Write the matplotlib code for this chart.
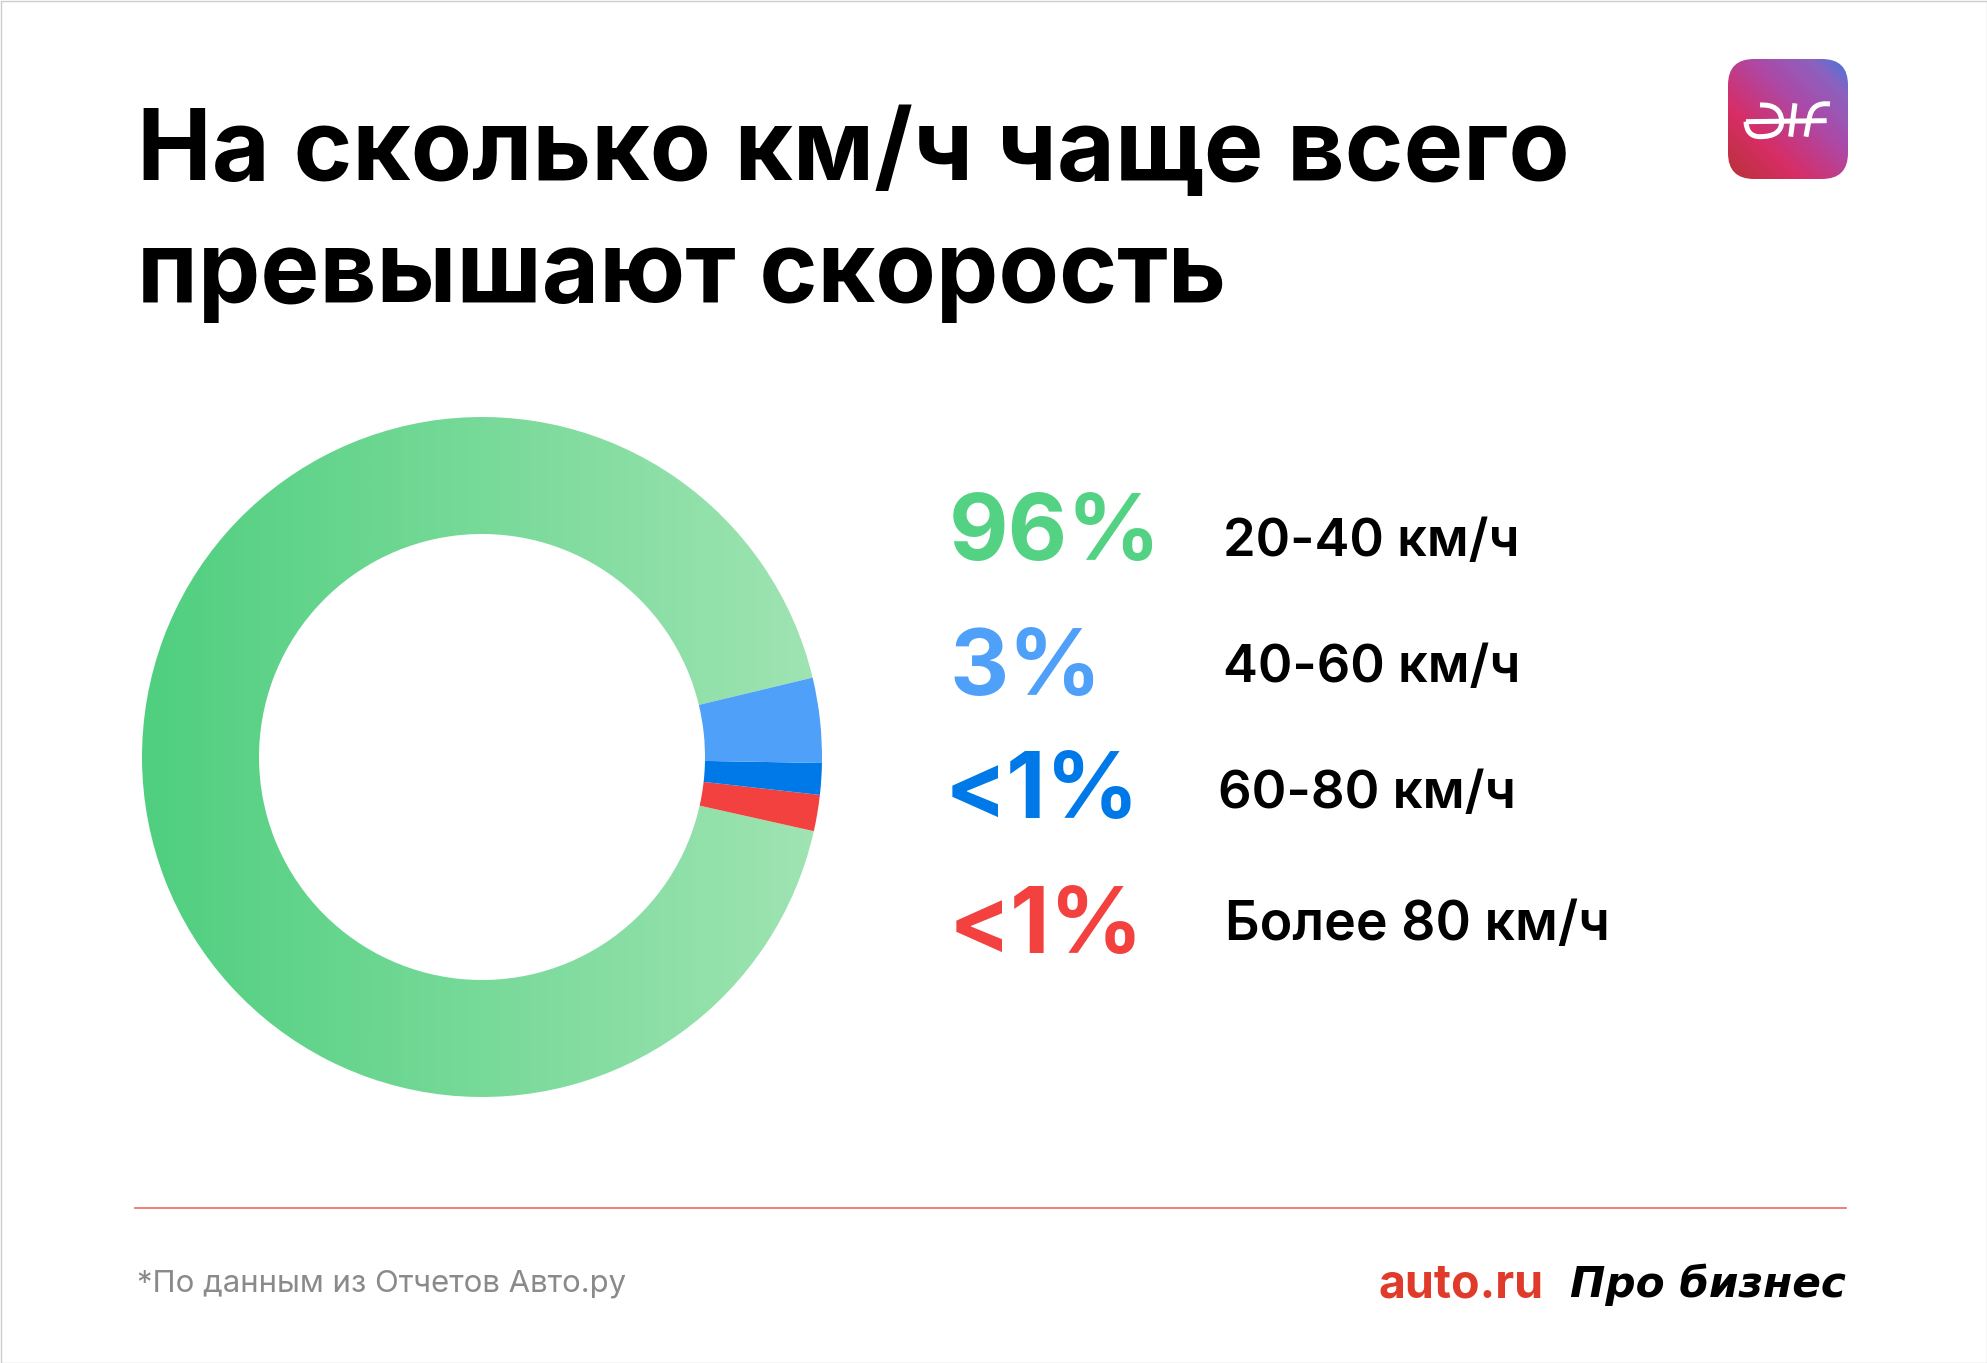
import numpy as np
import matplotlib
matplotlib.use('Agg')
import matplotlib.pyplot as plt
from matplotlib.colors import LinearSegmentedColormap
from matplotlib.patches import FancyBboxPatch, PathPatch, Rectangle
from matplotlib.path import Path

W, H = 1987, 1363

title_lines = ['На сколько км/ч чаще всего', 'превышают скорость']
pct_labels = ['96%', '3%', '<1%', '<1%']
speed_labels = ['20-40 км/ч', '40-60 км/ч', '60-80 км/ч', 'Более 80 км/ч']
pct_colors = ['#52D282', '#4FA0F8', '#0079E8', '#F2413F']
footnote = '*По данным из Отчетов Авто.ру'

# slice sizes as drawn, in percent of the ring (red, dark blue, blue, green)
ring_values = [1.72, 1.50, 4.03, 92.75]
ring_colors = ['#F2413F', '#0079E8', '#4FA0F8', 'none']

plt.rcParams['font.family'] = ['Inter', 'DejaVu Sans']

fig = plt.figure(figsize=(W / 100, H / 100), dpi=100, facecolor='white')

# page layer in pixel coordinates
page = fig.add_axes([0, 0, 1, 1])
page.set_xlim(0, W)
page.set_ylim(H, 0)
page.axis('off')
page.add_patch(Rectangle((0.5, 0.5), W - 1, H - 1, fill=False, edgecolor='#CCCCCC', linewidth=1))

page.text(137, 154, title_lines[0], fontsize=72, fontweight='bold', color='black', va='center', ha='left')
page.text(137, 277, title_lines[1], fontsize=71.3, fontweight='bold', color='black', va='center', ha='left')

# donut
cx, cy, r_out, r_in = 482, 757, 340, 223
ring = fig.add_axes([(cx - r_out) / W, 1 - (cy + r_out) / H, 2 * r_out / W, 2 * r_out / H])
wedges, _ = ring.pie(ring_values, colors=ring_colors, startangle=-12.6, counterclock=True, radius=1,
                     wedgeprops={'width': (r_out - r_in) / r_out, 'linewidth': 0})
green_map = LinearSegmentedColormap.from_list('green', ['#4FCF7F', '#A0E4B3'])
img = ring.imshow(np.linspace(0, 1, 512).reshape(1, -1), cmap=green_map, extent=[-1, 1, -1, 1],
                  aspect='auto', zorder=0)
img.set_clip_path(wedges[3])
ring.set_xlim(-1, 1)
ring.set_ylim(-1, 1)
ring.axis('off')

# legend
pct_pos = [(949, 536), (949, 671), (945, 794), (949, 929)]
label_pos = [(1223, 542), (1223, 669), (1218, 794), (1225, 926)]
label_size = [37.7, 37.7, 38.0, 38.6]
for lab, col, (x, y) in zip(pct_labels, pct_colors, pct_pos):
    page.text(x, y, lab, fontsize=66, fontweight='bold', color=col, va='center', ha='left')
for lab, (x, y), size in zip(speed_labels, label_pos, label_size):
    page.text(x, y, lab, fontsize=size, fontweight='semibold', color='black', va='center', ha='left')

# footer
page.plot([135, 1846], [1208, 1208], color='#EE6A5F', linewidth=1.2)
page.text(137, 1284, footnote, fontsize=22.4, color='#8A8A8A', va='center', ha='left')
page.text(1379, 1286, 'auto.ru', fontsize=33.5, fontweight='bold', color='#E03A2A', va='center', ha='left')
page.text(1570, 1285, 'Про бизнес', fontsize=30.4, fontstyle='italic', fontweight='bold', color='black',
          va='center', ha='left', family='DejaVu Sans')

# logo
logo_map = LinearSegmentedColormap.from_list('logo', [(0, '#B83238'), (0.3, '#D72D66'), (0.62, '#AB4AA8'),
                                                      (0.85, '#8B62C0'), (1, '#3F78DC')])
xx, yy = np.meshgrid(np.linspace(0, 1, 128), np.linspace(0, 1, 128))
logo_img = page.imshow((xx + yy) / 2, cmap=logo_map, extent=[1728, 1848, 179, 59], origin='lower',
                       aspect='auto', zorder=2)
logo_box = FancyBboxPatch((1752, 83), 72, 72, boxstyle='round,pad=24,rounding_size=26', facecolor='none',
                          edgecolor='none', transform=page.transData)
page.add_patch(logo_box)
logo_img.set_clip_path(logo_box)
page.set_xlim(0, W)
page.set_ylim(H, 0)


def px(X, Y):
    return 1680 + X / 3, 30 + Y / 3


strokes = [
    ([(240, 225), (300, 222), (305, 270), (305, 275), (305, 320), (240, 320), (200, 320), (198, 275)],
     [Path.MOVETO, Path.CURVE3, Path.CURVE3, Path.LINETO, Path.CURVE3, Path.CURVE3, Path.CURVE3, Path.CURVE3]),
    ([(198, 275), (440, 272)], [Path.MOVETO, Path.LINETO]),
    ([(345, 220), (332, 320)], [Path.MOVETO, Path.LINETO]),
    ([(450, 222), (395, 215), (388, 265), (378, 320)], [Path.MOVETO, Path.CURVE3, Path.CURVE3, Path.LINETO]),
]
for pts, codes in strokes:
    page.add_patch(PathPatch(Path([px(*p) for p in pts], codes), fill=False, edgecolor='white',
                             linewidth=3.6, zorder=3, capstyle='butt'))

fig.savefig('out.png', dpi=100)
